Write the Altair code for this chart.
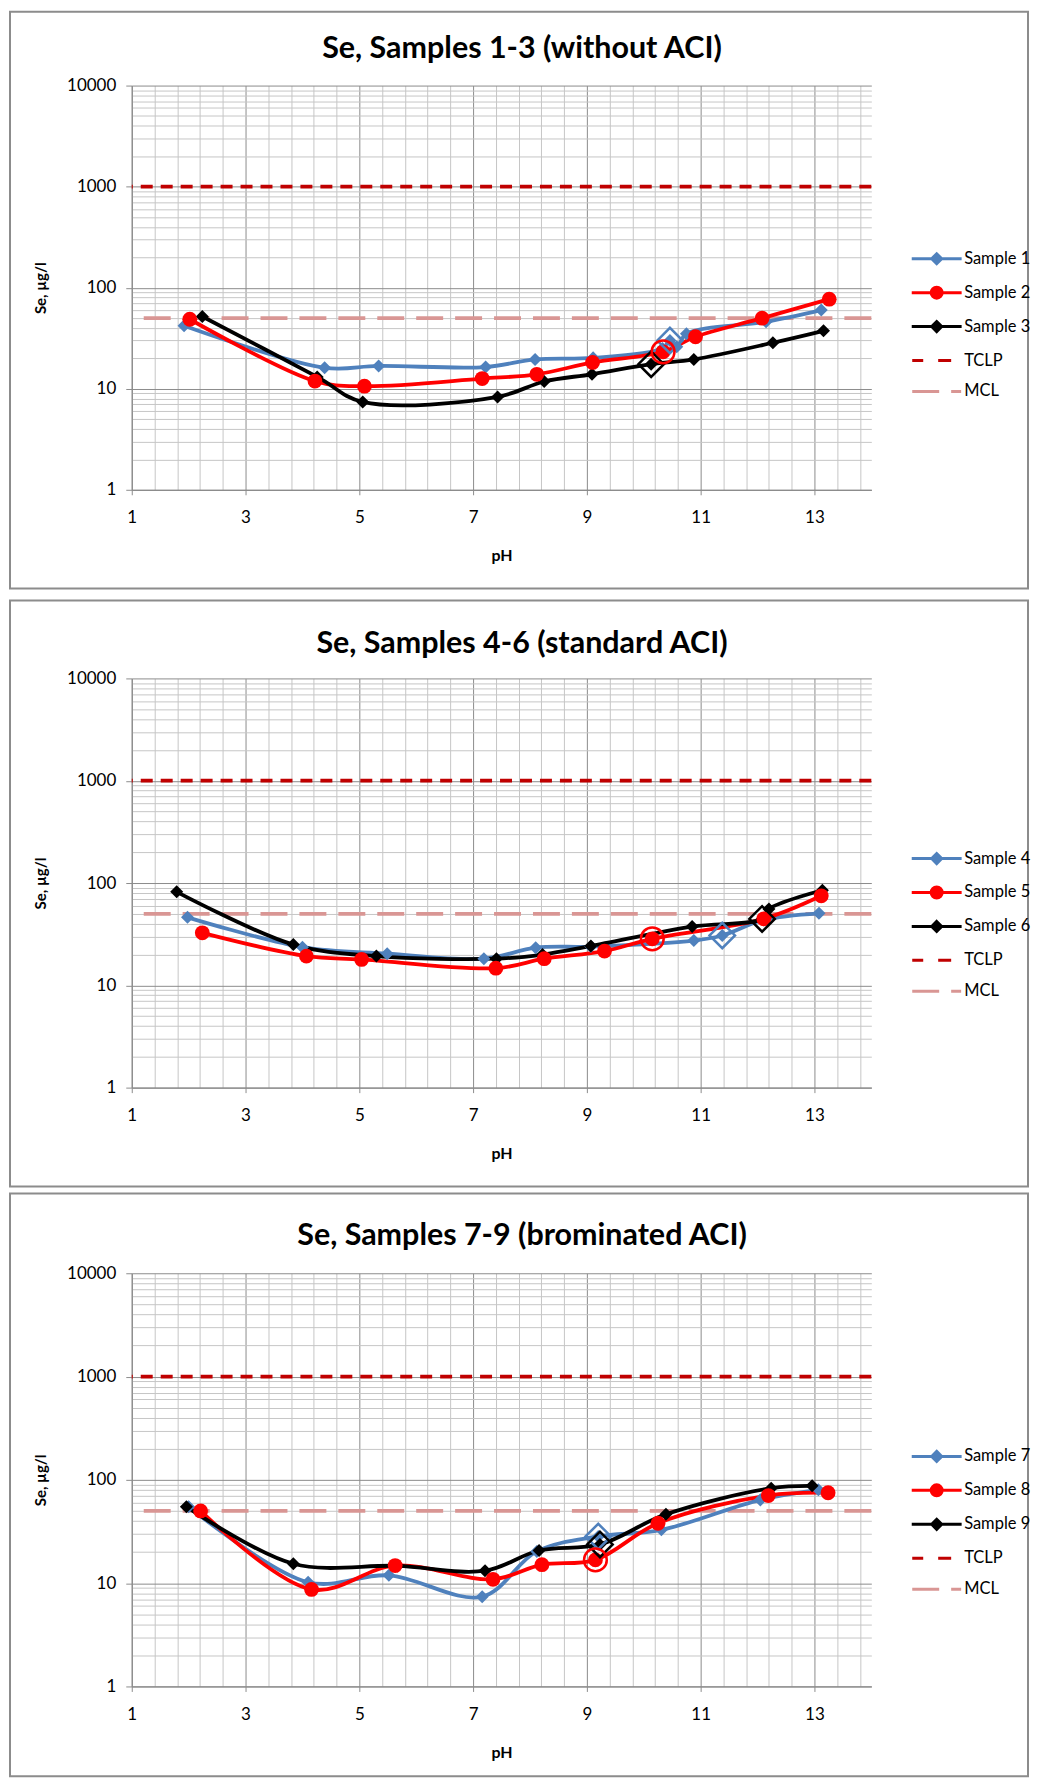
import altair as alt
import pandas as pd

# ---------------- data ----------------
TCLP_LEVEL = 1000
MCL_LEVEL = 50

# Panel 1
P1_TITLE = "Se, Samples 1-3 (without ACI)"
P1_NAMES = ["Sample 1", "Sample 2", "Sample 3"]
P1_S1_PH = [1.92, 4.39, 5.34, 7.22, 8.09, 9.11, 10.33, 10.46, 10.58, 10.75, 12.15, 13.12]
P1_S1_SE = [42, 16.1, 16.8, 16.4, 19.5, 20.2, 25, 30, 26, 35, 46, 60]
P1_S2_PH = [2.02, 4.22, 5.09, 7.16, 8.12, 9.10, 10.34, 10.91, 12.08, 13.26]
P1_S2_SE = [48.7, 11.9, 10.6, 12.6, 13.9, 18.2, 23.2, 32.7, 49.9, 77]
P1_S3_PH = [2.24, 4.26, 5.06, 7.43, 8.25, 9.09, 10.13, 10.88, 12.27, 13.16]
P1_S3_SE = [51.8, 13.1, 7.4, 8.3, 11.8, 13.9, 17.5, 19.5, 28.5, 37.4]
P1_HL_PH = [10.46, 10.34, 10.13]
P1_HL_SE = [30, 23.2, 17.5]

# Panel 2
P2_TITLE = "Se, Samples 4-6 (standard ACI)"
P2_NAMES = ["Sample 4", "Sample 5", "Sample 6"]
P2_S1_PH = [1.98, 4.0, 5.49, 7.19, 8.1, 9.07, 10.88, 11.38, 12.11, 13.08]
P2_S1_SE = [46.2, 23.6, 20.4, 18.2, 23.3, 23.9, 27.4, 30.7, 43.6, 50.6]
P2_S2_PH = [2.24, 4.07, 5.04, 7.40, 8.25, 9.31, 10.15, 12.11, 13.12]
P2_S2_SE = [32.6, 19.3, 17.9, 14.7, 18.2, 21.6, 28.5, 44.7, 75]
P2_S3_PH = [1.79, 3.84, 5.30, 7.41, 8.22, 9.07, 10.85, 12.08, 12.2, 13.14]
P2_S3_SE = [82, 25, 19.3, 18.2, 20, 24.2, 37.5, 44.6, 55.8, 85]
P2_HL_PH = [11.38, 10.15, 12.08]
P2_HL_SE = [30.7, 28.5, 44.6]

# Panel 3
P3_TITLE = "Se, Samples 7-9 (brominated ACI)"
P3_NAMES = ["Sample 7", "Sample 8", "Sample 9"]
P3_S1_PH = [2.0, 4.1, 5.52, 7.16, 8.12, 9.2, 10.31, 12.05, 13.07]
P3_S1_SE = [55, 10.2, 11.9, 7.4, 20.3, 28.3, 32.8, 64, 80]
P3_S2_PH = [2.21, 4.16, 5.63, 7.35, 8.21, 9.15, 10.25, 12.19, 13.24]
P3_S2_SE = [50, 8.7, 14.8, 10.9, 15.1, 16.8, 38, 70.5, 75]
P3_S3_PH = [1.96, 3.84, 5.67, 7.21, 8.16, 9.23, 10.39, 12.24, 12.96]
P3_S3_SE = [55, 15.4, 14.7, 13.2, 20.7, 23.7, 46.4, 83, 87.5]
P3_HL_PH = [9.2, 9.15, 9.23]
P3_HL_SE = [28.3, 16.8, 23.7]

# axis tick / grid positions
X_GRID = [round(1 + 0.4 * k, 1) for k in range(33)]          # 1.0 ... 13.8
Y_GRID = [m * 10 ** e for e in range(4) for m in range(1, 10)] + [10000]

# ---------------- styling ----------------
FONT = "Lato"
C_BLUE, C_RED, C_BLACK = "#4F81BD", "#FF0000", "#000000"
C_TCLP, C_MCL = "#C00000", "#D99694"
GRID_MAJOR, GRID_MINOR = "#8C8C8C", "#C6C6C6"
PLOT_W = 741

X_MAJOR = "abs(datum.value - round(datum.value)) < 0.01"
Y_MAJOR = "abs(log(datum.value)/LN10 - round(log(datum.value)/LN10)) < 0.001"

# legend symbols: line with marker / dashed lines (unit = sqrt(size)/2 = 10px)
SYM_DIAMOND = "M-2.5,0L2.5,0M0,-0.5L0.5,0L0,0.5L-0.5,0Z"
SYM_CIRCLE = "M-2.5,0L2.5,0M-0.55,0A0.55,0.55 0 1,0 0.55,0A0.55,0.55 0 1,0 -0.55,0Z"
SYM_TCLP = "M-2.45,0L-1.35,0M0.15,0L1.45,0"
SYM_MCL = "M-2.45,0L0.25,0M1.45,0L2.45,0"

INDEP = dict(color="independent", fill="independent", stroke="independent",
             shape="independent", strokeDash="independent")


def make_panel(title, names, series, hl_ph, hl_se, height, title_y, leg_y, rect_top, rect_bottom):
    rows = []
    for name, (phs, ses) in zip(names, series):
        for p, s in zip(phs, ses):
            rows.append({"series": name, "pH": p, "se": s})
    df = pd.DataFrame(rows)
    hl = pd.DataFrame({"series": names, "pH": hl_ph, "se": hl_se})
    ref = pd.DataFrame({"series": ["TCLP", "MCL"], "se": [TCLP_LEVEL, MCL_LEVEL]})
    leg = pd.DataFrame({"series": names + ["TCLP", "MCL"]})

    leg_names = names + ["TCLP", "MCL"]
    leg_colors = [C_BLUE, C_RED, C_BLACK, C_TCLP, C_MCL]
    # drawing colour scale (different domain order so it does not merge with the legend)
    cscale = alt.Scale(domain=["TCLP", "MCL"] + names, range=[C_TCLP, C_MCL, C_BLUE, C_RED, C_BLACK])

    x_axis = alt.Axis(
        values=X_GRID, title="pH", titleFont=FONT, titleFontSize=16, titleFontWeight="bold",
        titleColor="#000", titleY=66, titleBaseline="middle",
        labelExpr=f"({X_MAJOR}) ? format(datum.value, 'd') : ''",
        labelFont=FONT, labelFontSize=17, labelColor="#000", labelPadding=15,
        labelFlush=False, labelOverlap=False, labelBound=False,
        tickSize=5, tickColor={"condition": {"test": X_MAJOR, "value": GRID_MAJOR}, "value": "transparent"},
        grid=True, gridColor={"condition": {"test": X_MAJOR, "value": GRID_MAJOR}, "value": GRID_MINOR},
        gridWidth=1, domainColor=GRID_MAJOR, domainWidth=1.2,
    )
    y_axis = alt.Axis(
        values=Y_GRID, title="Se, µg/l", titleFont=FONT, titleFontSize=15, titleFontWeight="bold",
        titleColor="#000", titleX=-91, titleY=height / 2, titleBaseline="middle", titleAlign="center",
        labelExpr=f"({Y_MAJOR}) ? format(datum.value, 'd') : ''",
        labelFont=FONT, labelFontSize=17, labelColor="#000", labelPadding=10,
        labelFlush=False, labelOverlap=False, labelBound=False,
        tickSize=6, tickColor={"condition": {"test": Y_MAJOR, "value": GRID_MAJOR}, "value": "transparent"},
        grid=True, gridColor={"condition": {"test": Y_MAJOR, "value": GRID_MAJOR}, "value": GRID_MINOR},
        gridWidth=1, domainColor=GRID_MAJOR, domainWidth=1.2,
    )
    X = alt.X("pH:Q", scale=alt.Scale(domain=[1, 14], nice=False, zero=False), axis=x_axis)
    Y = alt.Y("se:Q", scale=alt.Scale(type="log", domain=[1, 10000], nice=False), axis=y_axis)
    COLOR = alt.Color("series:N", scale=cscale, legend=None)

    border = alt.Chart(alt.Data(values=[{}])).mark_rect(
        fillOpacity=0, stroke="#8C8C8C", strokeWidth=2
    ).encode(x=alt.value(-122), x2=alt.value(898), y=alt.value(rect_top), y2=alt.value(rect_bottom))

    rules = alt.Chart(ref).mark_rule(strokeWidth=3.8).encode(
        y=Y, color=COLOR,
        strokeDash=alt.StrokeDash("series:N", scale=alt.Scale(domain=["TCLP", "MCL"], range=[[12, 8], [27, 12]]), legend=None),
    )

    base = alt.Chart(df)
    lines = base.mark_line(interpolate="catmull-rom", strokeWidth=3.8).encode(x=X, y=Y, color=COLOR)
    diamonds = base.transform_filter(
        alt.FieldOneOfPredicate(field="series", oneOf=[names[0], names[2]])
    ).mark_point(shape="diamond", filled=True, size=170, opacity=1).encode(x=X, y=Y, color=COLOR)
    circles = base.transform_filter(
        alt.FieldEqualPredicate(field="series", equal=names[1])
    ).mark_point(shape="circle", filled=True, size=220, opacity=1).encode(x=X, y=Y, color=COLOR)

    hbase = alt.Chart(hl)
    hl_d = hbase.transform_filter(
        alt.FieldOneOfPredicate(field="series", oneOf=[names[0], names[2]])
    ).mark_point(shape="diamond", filled=False, size=650, strokeWidth=2.5, opacity=1).encode(x=X, y=Y, color=COLOR)
    hl_c = hbase.transform_filter(
        alt.FieldEqualPredicate(field="series", equal=names[1])
    ).mark_point(shape="circle", filled=False, size=520, strokeWidth=2.5, opacity=1).encode(x=X, y=Y, color=COLOR)

    legend = alt.Legend(
        orient="none", legendX=795, legendY=leg_y, padding=0,
        symbolSize=400, symbolStrokeWidth=3, symbolOpacity=1,
        labelFont=FONT, labelFontSize=16.5, labelColor="#000", labelOffset=16,
        rowPadding=11, labelLimit=80,
    )
    # legend-only layer: no marks drawn, only scales for the legend
    legend_layer = alt.Chart(leg).transform_filter("false").mark_point(filled=True).encode(
        fill=alt.Fill("series:N", scale=alt.Scale(domain=leg_names, range=leg_colors), legend=legend, title=None),
        stroke=alt.Stroke("series:N", scale=alt.Scale(domain=leg_names, range=leg_colors), legend=legend, title=None),
        shape=alt.Shape("series:N", scale=alt.Scale(domain=leg_names,
                        range=[SYM_DIAMOND, SYM_CIRCLE, SYM_DIAMOND, SYM_TCLP, SYM_MCL]),
                        legend=legend, title=None),
    )

    title_mark = alt.Chart(alt.Data(values=[{"t": title}])).mark_text(
        font=FONT, fontSize=30.5, fontWeight="bold", color="#000", align="center", baseline="middle"
    ).encode(x=alt.value(391), y=alt.value(title_y), text="t:N")

    return alt.layer(
        border, rules, lines, diamonds, circles, hl_d, hl_c, legend_layer, title_mark
    ).properties(width=PLOT_W, height=height)


p1 = make_panel(P1_TITLE, P1_NAMES, [(P1_S1_PH, P1_S1_SE), (P1_S2_PH, P1_S2_SE), (P1_S3_PH, P1_S3_SE)],
                P1_HL_PH, P1_HL_SE, 405, -37, 162, -74, 504)
p2 = make_panel(P2_TITLE, P2_NAMES, [(P2_S1_PH, P2_S1_SE), (P2_S2_PH, P2_S2_SE), (P2_S3_PH, P2_S3_SE)],
                P2_HL_PH, P2_HL_SE, 410, -34, 169, -78, 509)
p3 = make_panel(P3_TITLE, P3_NAMES, [(P3_S1_PH, P3_S1_SE), (P3_S2_PH, P3_S2_SE), (P3_S3_PH, P3_S3_SE)],
                P3_HL_PH, P3_HL_SE, 414, -37, 172, -80, 504)

inner = alt.vconcat(p1, p2, spacing=8).resolve_scale(**INDEP).resolve_legend(**INDEP)
chart = alt.vconcat(inner, p3, spacing=3).resolve_scale(**INDEP).resolve_legend(**INDEP).properties(
    padding={"left": 0, "top": 0, "right": 0, "bottom": 0}, background="white"
).configure_view(stroke="transparent")

chart.save("out.html", embed_options={"renderer": "svg", "actions": False})
